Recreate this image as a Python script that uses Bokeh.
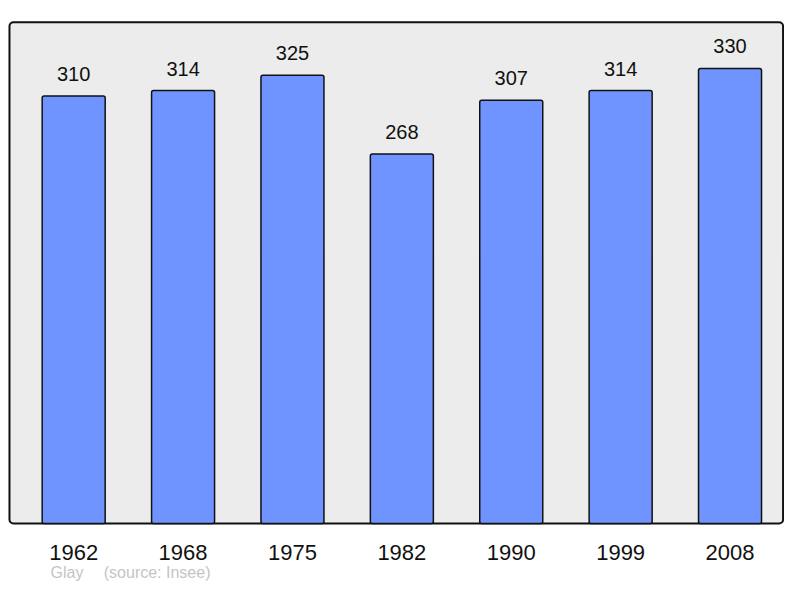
from bokeh.plotting import figure
from bokeh.models import Range1d, BoxAnnotation, ColumnDataSource
from bokeh.core.properties import value
from bokeh.embed import file_html
from bokeh.resources import INLINE

# ---- data ----
years = ["1962", "1968", "1975", "1982", "1990", "1999", "2008"]
population = [310, 314, 325, 268, 307, 314, 330]
author = "Glay"
source = "(source: Insee)"

FONT = "Liberation Sans"
idx = list(range(len(years)))

src = ColumnDataSource(dict(
    x=idx,
    top=population,
    label=[str(v) for v in population],
    year=years,
))

p = figure(
    width=784, height=582,
    x_range=Range1d(-0.669, 6.498),
    y_range=Range1d(-42.8, 379.3),
    output_backend="svg", toolbar_location=None,
    x_axis_location=None, y_axis_location=None,
    min_border_left=0, min_border_right=0, min_border_top=0, min_border_bottom=0,
)
p.outline_line_color = None
p.background_fill_color = "white"
p.border_fill_color = "white"
p.xgrid.visible = False
p.ygrid.visible = False

# gray framed panel
panel = BoxAnnotation(left=-0.587, right=6.485, bottom=0, top=363.5,
                      fill_color="#ececec", fill_alpha=1.0,
                      line_color="#111111", line_width=2, line_alpha=1.0,
                      border_radius=4, level="underlay")
p.add_layout(panel)

p.vbar(x="x", top="top", bottom=0, width=0.576, source=src,
       fill_color="#7094ff", line_color="#111111", line_width=1.5,
       border_radius=2)

# value labels above bars
p.text(x="x", y="top", text="label", source=src,
       text_align="center", text_baseline="middle", y_offset=-22,
       text_font=value(FONT), text_font_size="20px", text_color="#111111")

# year labels under the panel
p.text(x="x", y=0, text="year", source=src,
       text_align="center", text_baseline="middle", y_offset=29,
       text_font=value(FONT), text_font_size="22px", text_color="#111111")

# footer
p.text(x=[-0.212, 0.275], y=[0, 0], text=[author, source],
       text_align="left", text_baseline="middle", y_offset=49,
       text_font=value(FONT), text_font_size="16px", text_color="#c4c4c4")

open("out.html", "w").write(file_html(p, INLINE))
